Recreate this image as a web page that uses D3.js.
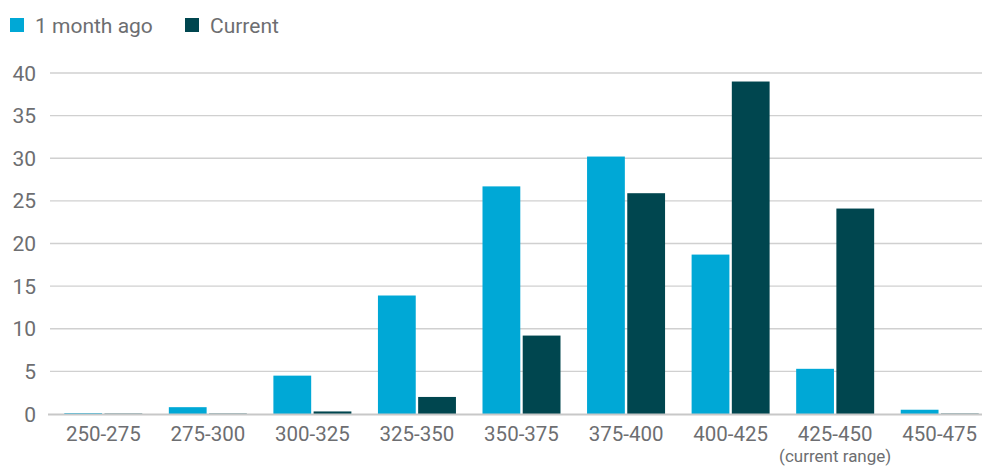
<!DOCTYPE html>
<html><head><meta charset="utf-8">
<script src="https://cdn.jsdelivr.net/npm/d3@7"></script>
<style>body{margin:0;background:#fff}svg{display:block}</style>
</head><body><svg id="c" width="982" height="466"></svg>
<script>
const categories = ["250-275","275-300","300-325","325-350","350-375","375-400","400-425","425-450","450-475"];
const seriesNames = ["1 month ago","Current"];
const monthAgo = [0.1,0.8,4.5,13.9,26.7,30.2,18.7,5.3,0.5];
const current = [0.05,0.05,0.3,2.0,9.2,25.9,39.0,24.1,0.05];
const yTicks = [0,5,10,15,20,25,30,35,40];
const colors = ["#00a8d6","#00464f"];
const textColor = "#6d6e71";
const font = "Roboto,'Liberation Sans',sans-serif";

const svg = d3.select("#c");
const x0 = d3.scaleBand().domain(categories).range([51,992]).paddingInner(0).paddingOuter(0);
const x1 = d3.scaleBand().domain(seriesNames).range([0,78]).paddingInner(0.06);
const y = d3.scaleLinear().domain([0,40]).range([414,73]);

svg.append("g").selectAll("line").data(yTicks.filter(d=>d>0)).join("line")
  .attr("x1",50).attr("x2",982).attr("y1",d=>y(d)).attr("y2",d=>y(d))
  .attr("stroke","#d0d0d0").attr("stroke-width",1.3);

const data = categories.map((c,i)=>({c, vals:[monthAgo[i],current[i]]}));
const groups = svg.append("g").selectAll("g").data(data).join("g")
  .attr("transform",d=>`translate(${x0(d.c)+x0.bandwidth()/2-39},0)`);
groups.selectAll("rect").data(d=>d.vals.map((v,j)=>({v,s:seriesNames[j],j}))).join("rect")
  .attr("x",d=>x1(d.s)).attr("width",x1.bandwidth())
  .attr("y",d=>y(d.v)).attr("height",d=>y(0)-y(d.v))
  .attr("fill",d=>colors[d.j]);

svg.append("line").attr("x1",48).attr("x2",982).attr("y1",y(0)+0.5).attr("y2",y(0)+0.5)
  .attr("stroke","#c8c8c8").attr("stroke-width",2);

svg.append("g").selectAll("text").data(yTicks).join("text")
  .attr("x",36).attr("y",d=>y(d)).attr("dy","0.36em").attr("text-anchor","end")
  .attr("fill",textColor).attr("font-family",font).attr("font-size",21).text(d=>d);

svg.append("g").selectAll("text").data(categories).join("text")
  .attr("x",d=>x0(d)+x0.bandwidth()/2).attr("y",440.5).attr("text-anchor","middle")
  .attr("fill",textColor).attr("font-family",font).attr("font-size",20.5).text(d=>d);
svg.append("text").attr("x",x0("425-450")+x0.bandwidth()/2).attr("y",461.5).attr("text-anchor","middle")
  .attr("fill",textColor).attr("font-family",font).attr("font-size",17).text("(current range)");

const leg = svg.append("g").selectAll("g").data(seriesNames).join("g")
  .attr("transform",(d,i)=>`translate(${i===0?10:185},0)`);
leg.append("rect").attr("x",0).attr("y",18).attr("width",14).attr("height",14).attr("fill",(d,i)=>colors[i]);
leg.append("text").attr("x",25).attr("y",25).attr("dy","0.36em").attr("fill",textColor)
  .attr("font-family",font).attr("font-size",21).text(d=>d);
</script></body></html>
